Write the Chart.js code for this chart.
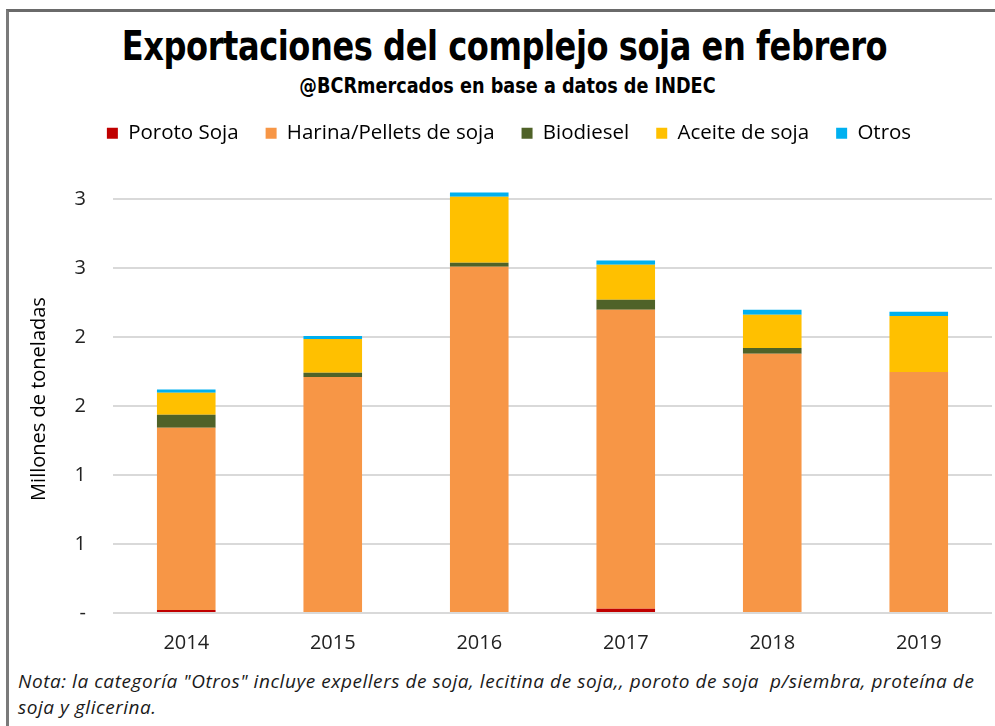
<!DOCTYPE html>
<html>
<head>
<meta charset="utf-8">
<script src="https://cdn.jsdelivr.net/npm/chart.js@4"></script>
<style>
  html, body { margin: 0; padding: 0; background: #fff; }
  #page { position: relative; width: 995px; height: 726px; overflow: hidden; }
  #frame { position: absolute; left: 6px; top: 9px; width: 995px; height: 730px;
           border-top: 3px solid #6a6a6a; border-left: 3px solid #7a7a7a; }
  #title { position: absolute; left: 7px; width: 995px; top: 22px; text-align: center;
           font-family: "Liberation Sans Narrow", "DejaVu Sans Condensed", sans-serif;
           font-weight: bold; font-size: 41px; color: #000; letter-spacing: -0.5px;
           transform: scaleX(0.87); }
  #subtitle { position: absolute; left: 10px; width: 995px; top: 74px; text-align: center;
           font-family: "Liberation Sans Narrow", "DejaVu Sans Condensed", sans-serif;
           font-weight: bold; font-size: 21px; color: #000; transform: scaleX(0.935); }
  #chartBox { position: absolute; left: 0; top: 110px; width: 995px; height: 555px; }
  #note { position: absolute; left: 18px; top: 668px; width: 990px;
          font-family: "Open Sans", sans-serif; font-style: italic; font-size: 19px;
          letter-spacing: 0.55px; line-height: 26px; color: #1a1a1a; white-space: nowrap; }
</style>
</head>
<body>
<div id="page">
  <div id="frame"></div>
  <div id="title">Exportaciones del complejo soja en febrero</div>
  <div id="subtitle">@BCRmercados en base a datos de INDEC</div>
  <div id="chartBox"><canvas id="sojaChart"></canvas></div>
  <div id="note">Nota: la categoría "Otros" incluye expellers de soja, lecitina de soja,, poroto de soja&nbsp; p/siembra, proteína de<br>soja y glicerina.</div>
</div>
<script>
// --- Data (millones de toneladas) ---
const years = ["2014", "2015", "2016", "2017", "2018", "2019"];
const poroto = [0.022, 0, 0, 0.03, 0, 0];
const harina = [1.32, 1.71, 2.507, 2.167, 1.877, 1.746];
const biodiesel = [0.094, 0.03, 0.03, 0.072, 0.043, 0];
const aceite = [0.16, 0.245, 0.478, 0.254, 0.24, 0.406];
const otros = [0.022, 0.022, 0.03, 0.03, 0.036, 0.03];

const tickValues = [0, 0.5, 1, 1.5, 2, 2.5, 3];
const tickLabels = ["-", "1", "1", "2", "2", "3", "3"];

const tickFont = { family: "'Open Sans', sans-serif", size: 20 };

// keep legend block a fixed height so the plot starts where the original does
const legendHeight = {
    id: "legendHeight",
    beforeInit(chart) {
        const fit = chart.legend.fit;
        chart.legend.fit = function () {
            fit.bind(chart.legend)();
            this.height = 89;
        };
    }
};

function ds(label, data, color) {
    return {
        label: label,
        data: data,
        backgroundColor: color,
        borderWidth: 0,
        barPercentage: 0.4,
        categoryPercentage: 1.0
    };
}

new Chart(document.getElementById("sojaChart"), {
    type: "bar",
    data: {
        labels: years,
        datasets: [
            ds("Poroto Soja", poroto, "#c00000"),
            ds("Harina/Pellets de soja", harina, "#f79646"),
            ds("Biodiesel", biodiesel, "#4f6228"),
            ds("Aceite de soja", aceite, "#ffc000"),
            ds("Otros", otros, "#00b0f0")
        ]
    },
    options: {
        responsive: true,
        maintainAspectRatio: false,
        animation: false,
        layout: { padding: { left: 26, right: 3, top: -14, bottom: 0 } },
        plugins: {
            legend: {
                position: "top",
                labels: {
                    boxWidth: 11,
                    boxHeight: 11,
                    padding: 27,
                    color: "#000",
                    font: { family: "'Open Sans', sans-serif", size: 20.5 }
                }
            },
            tooltip: { enabled: false }
        },
        scales: {
            x: {
                stacked: true,
                grid: { display: false, drawTicks: false },
                border: { display: false },
                ticks: { color: "#222", font: tickFont, padding: 18 },
                afterFit: function (scale) { scale.height = 52; }
            },
            y: {
                stacked: true,
                min: 0,
                max: 3.1,
                grid: { color: "#d9d9d9", lineWidth: 2, drawTicks: false },
                border: { display: false },
                afterBuildTicks: function (scale) {
                    scale.ticks = tickValues.map(v => ({ value: v }));
                },
                ticks: {
                    color: "#222",
                    font: tickFont,
                    padding: 27,
                    callback: function (value) {
                        const i = tickValues.indexOf(value);
                        return i >= 0 ? tickLabels[i] : "";
                    }
                },
                title: {
                    display: true,
                    text: "Millones de toneladas",
                    color: "#000",
                    font: { family: "'Open Sans', sans-serif", size: 20 },
                    padding: { top: 1, bottom: 0 }
                },
                afterFit: function (scale) { scale.width = 87; }
            }
        }
    },
    plugins: [legendHeight]
});
</script>
</body>
</html>
